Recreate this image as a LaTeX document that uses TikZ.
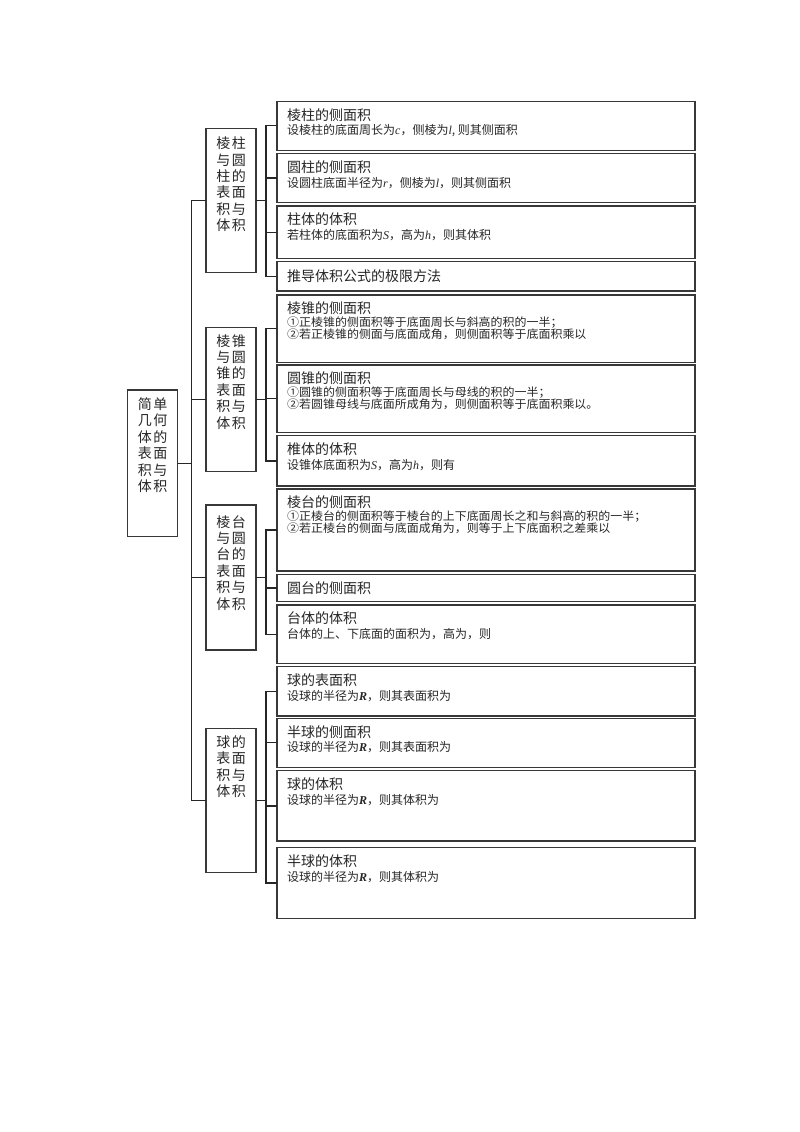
\documentclass[tikz,border=0pt]{standalone}
\usepackage{fontspec}
\setmainfont{Noto Sans CJK SC}
\newfontfamily\cjkwide[FakeStretch=1.05]{Noto Sans CJK SC}
\newfontfamily\libser{Liberation Serif}
\newcommand{\vv}[1]{{\libser\itshape #1}}
\newcommand{\vb}[1]{{\libser\itshape\bfseries #1}}
\newcommand{\gp}{\hspace{1.5pt}}
\begin{document}
\begin{tikzpicture}[x=1pt,y=-1pt,
 bx/.style={draw=black!78, line width=1.3pt, minimum width=418pt, inner sep=0pt, outer sep=0pt},
 sb/.style={draw=black!78, line width=1.3pt, minimum width=50pt, inner sep=0pt, outer sep=0pt},
 conn/.style={draw=black!85, line width=1.3pt},
 tt/.style={anchor=west, inner sep=0pt, font=\fontsize{14}{16}\selectfont, text=black!85, text height=12.3pt, text depth=1.7pt},
 bt/.style={anchor=west, inner sep=0pt, font=\fontsize{12}{13}\selectfont, text=black!85, text height=10.5pt, text depth=1.5pt},
 ct/.style={anchor=west, inner sep=0pt, font=\cjkwide\fontsize{11.4}{12}\selectfont, text=black!85, text height=10pt, text depth=1.4pt},
 vt/.style={anchor=north, inner sep=0pt, align=center, font=\fontsize{14}{16.4}\selectfont, text=black!85}
]
\useasboundingbox[fill=white] (0,0) rectangle (800,1132);

% root and group boxes
\node[sb, minimum height=146.7pt] (root) at (152.7,463.35) {};
\node[sb, minimum height=144.4pt] (s1) at (231,200.5) {};
\node[sb, minimum height=144pt] (s2) at (231,399.7) {};
\node[sb, minimum height=145pt] (s3) at (231,577.5) {};
\node[sb, minimum height=144.4pt] (s4) at (231,800.5) {};

\node[vt] at ([shift={(0,7.5)}]root.north) {简\gp 单\\几\gp 何\\体\gp 的\\表\gp 面\\积\gp 与\\体\gp 积};
\node[vt] at ([shift={(0,8.5)}]s1.north) {棱\gp 柱\\与\gp 圆\\柱\gp 的\\表\gp 面\\积\gp 与\\体\gp 积};
\node[vt] at ([shift={(0,6.5)}]s2.north) {棱\gp 锥\\与\gp 圆\\锥\gp 的\\表\gp 面\\积\gp 与\\体\gp 积};
\node[vt] at ([shift={(0,10)}]s3.north) {棱\gp 台\\与\gp 圆\\台\gp 的\\表\gp 面\\积\gp 与\\体\gp 积};
\node[vt] at ([shift={(0,7)}]s4.north) {球\gp 的\\表\gp 面\\积\gp 与\\体\gp 积};

% leaf boxes
\node[bx, minimum height=49pt] (b1) at (486,125.8) {};
\node[bx, minimum height=48.8pt] (b2) at (486,178.1) {};
\node[bx, minimum height=52.3pt] (b3) at (486,232.15) {};
\node[bx, minimum height=29.3pt] (b4) at (486,276.35) {};
\node[bx, minimum height=67.3pt] (b5) at (486,328.65) {};
\node[bx, minimum height=67.3pt] (b6) at (486,398.65) {};
\node[bx, minimum height=50.3pt] (b7) at (486,460.85) {};
\node[bx, minimum height=82pt] (b8) at (486,530) {};
\node[bx, minimum height=27.4pt] (b9) at (486,588) {};
\node[bx, minimum height=58.8pt] (b10) at (486,634.4) {};
\node[bx, minimum height=49.3pt] (b11) at (486,691.35) {};
\node[bx, minimum height=49pt] (b12) at (486,742.8) {};
\node[bx, minimum height=70.3pt] (b13) at (486,805.85) {};
\node[bx, minimum height=70.6pt] (b14) at (486,883) {};

% texts
\node[tt] at ([shift={(10,13.5)}]b1.north west) {棱柱的侧面积};
\node[bt] at ([shift={(10,29)}]b1.north west) {设棱柱的底面周长为\vv{c}，侧棱为\vv{l}, 则其侧面积};
\node[tt] at ([shift={(10,13.5)}]b2.north west) {圆柱的侧面积};
\node[bt] at ([shift={(10,29)}]b2.north west) {设圆柱底面半径为\vv{r}，侧棱为\vv{l}，则其侧面积};
\node[tt] at ([shift={(10,13.5)}]b3.north west) {柱体的体积};
\node[bt] at ([shift={(10,29)}]b3.north west) {若柱体的底面积为\vv{S}，高为\vv{h}，则其体积};
\node[tt] at ([xshift=10pt]b4.west) {推导体积公式的极限方法};

\node[tt] at ([shift={(10,13)}]b5.north west) {棱锥的侧面积};
\node[ct] at ([shift={(10,27.5)}]b5.north west) {①正棱锥的侧面积等于底面周长与斜高的积的一半；};
\node[ct] at ([shift={(10,39.5)}]b5.north west) {②若正棱锥的侧面与底面成角，则侧面积等于底面积乘以};
\node[tt] at ([shift={(10,13)}]b6.north west) {圆锥的侧面积};
\node[ct] at ([shift={(10,27.5)}]b6.north west) {①圆锥的侧面积等于底面周长与母线的积的一半；};
\node[ct] at ([shift={(10,39.5)}]b6.north west) {②若圆锥母线与底面所成角为，则侧面积等于底面积乘以。};
\node[tt] at ([shift={(10,13.5)}]b7.north west) {椎体的体积};
\node[bt] at ([shift={(10,29)}]b7.north west) {设锥体底面积为\vv{S}，高为\vv{h}，则有};

\node[tt] at ([shift={(10,13)}]b8.north west) {棱台的侧面积};
\node[ct] at ([shift={(10,27.5)}]b8.north west) {①正棱台的侧面积等于棱台的上下底面周长之和与斜高的积的一半；};
\node[ct] at ([shift={(10,39.5)}]b8.north west) {②若正棱台的侧面与底面成角为，则等于上下底面积之差乘以};
\node[tt] at ([xshift=10pt]b9.west) {圆台的侧面积};
\node[tt] at ([shift={(10,13.5)}]b10.north west) {台体的体积};
\node[bt] at ([shift={(10,29)}]b10.north west) {台体的上、下底面的面积为，高为，则};

\node[tt] at ([shift={(10,13.5)}]b11.north west) {球的表面积};
\node[bt] at ([shift={(10,29)}]b11.north west) {设球的半径为\vb{R}，则其表面积为};
\node[tt] at ([shift={(10,13.5)}]b12.north west) {半球的侧面积};
\node[bt] at ([shift={(10,29)}]b12.north west) {设球的半径为\vb{R}，则其表面积为};
\node[tt] at ([shift={(10,13.5)}]b13.north west) {球的体积};
\node[bt] at ([shift={(10,29)}]b13.north west) {设球的半径为\vb{R}，则其体积为};
\node[tt] at ([shift={(10,13.5)}]b14.north west) {半球的体积};
\node[bt] at ([shift={(10,29)}]b14.north west) {设球的半径为\vb{R}，则其体积为};

% connectors
\foreach \s in {s1,s2,s3,s4} \draw[conn] (root.east) -- ++(14,0) |- (\s.west);
\foreach \b in {b1,b2,b3,b4} \draw[conn] (s1.east) -- ++(10,0) |- (\b.west);
\foreach \b in {b5,b6,b7} \draw[conn] (s2.east) -- ++(10,0) |- (\b.west);
\foreach \b in {b8,b9,b10} \draw[conn] (s3.east) -- ++(10,0) |- (\b.west);
\foreach \b in {b11,b12,b13,b14} \draw[conn] (s4.east) -- ++(10,0) |- (\b.west);
\end{tikzpicture}
\end{document}
